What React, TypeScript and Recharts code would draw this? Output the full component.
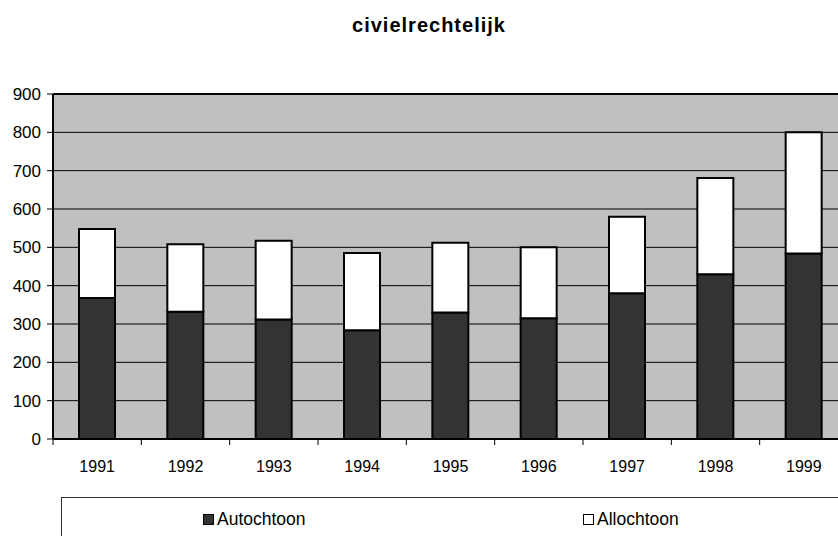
import React from "react";
import {
  BarChart,
  Bar,
  XAxis,
  YAxis,
  CartesianGrid,
  ReferenceLine,
} from "recharts";

const YEARS = ["1991", "1992", "1993", "1994", "1995", "1996", "1997", "1998", "1999"];
const AUTOCHTOON = [368, 332, 312, 284, 330, 315, 380, 430, 484];
const ALLOCHTOON = [180, 176, 205, 201, 182, 185, 200, 251, 316];
const Y_TICKS = [0, 100, 200, 300, 400, 500, 600, 700, 800, 900];

const data = YEARS.map((year, i) => ({
  year,
  autochtoon: AUTOCHTOON[i],
  allochtoon: ALLOCHTOON[i],
}));

const FONT = "'Liberation Sans', Arial, sans-serif";
const CHART_W = 900;
const CHART_H = 536;
const MARGIN = { top: 94, right: 52, left: 0, bottom: 67 };
const Y_AXIS_W = 53;
const PLOT_W = CHART_W - MARGIN.right - MARGIN.left - Y_AXIS_W;
const HALF_BAND = PLOT_W / YEARS.length / 2;

// year label in the middle, tick mark on the left boundary of each category
const YearTick = (props: any) => {
  const { x, y, payload } = props;
  return (
    <g>
      <line x1={x - HALF_BAND} y1={y} x2={x - HALF_BAND} y2={y + 6} stroke="#000" strokeWidth={1} />
      <text x={x} y={y + 33} textAnchor="middle" fill="#000" fontSize={16} fontFamily={FONT}>
        {payload.value}
      </text>
    </g>
  );
};

const LEGEND = [
  { name: "Autochtoon", fill: "#333333", left: 203 },
  { name: "Allochtoon", fill: "#ffffff", left: 583 },
];

export default function App() {
  return (
    <div
      style={{
        position: "absolute",
        left: 0,
        top: 0,
        width: 838,
        height: 536,
        overflow: "hidden",
        background: "#fff",
        fontFamily: FONT,
      }}
    >
      <div
        style={{
          position: "absolute",
          left: 0,
          top: 14,
          width: 858,
          textAlign: "center",
          fontWeight: "bold",
          fontSize: 20,
          letterSpacing: 1,
          color: "#000",
        }}
      >
        civielrechtelijk
      </div>

      <BarChart width={CHART_W} height={CHART_H} data={data} margin={MARGIN}>
        <CartesianGrid vertical={false} stroke="#000" fill="#C0C0C0" fillOpacity={1} />
        <XAxis
          dataKey="year"
          height={30}
          tickSize={0}
          tickMargin={0}
          tickLine={false}
          axisLine={{ stroke: "#000", strokeWidth: 2 }}
          tick={<YearTick />}
          interval={0}
        />
        <YAxis
          width={Y_AXIS_W}
          domain={[0, 900]}
          ticks={Y_TICKS}
          interval={0}
          tickSize={6}
          tickMargin={6}
          tickLine={{ stroke: "#000" }}
          axisLine={{ stroke: "#000", strokeWidth: 2 }}
          tick={{ fill: "#000", fontSize: 17, fontFamily: FONT }}
        />
        <ReferenceLine y={900} stroke="#000" strokeWidth={2} />
        <Bar
          dataKey="autochtoon"
          stackId="a"
          fill="#333333"
          stroke="#000"
          strokeWidth={2}
          barSize={36}
          isAnimationActive={false}
        />
        <Bar
          dataKey="allochtoon"
          stackId="a"
          fill="#ffffff"
          stroke="#000"
          strokeWidth={2}
          barSize={36}
          isAnimationActive={false}
        />
      </BarChart>

      <div
        style={{
          position: "absolute",
          left: 61,
          top: 497,
          width: 900,
          height: 80,
          borderTop: "1px solid #333",
          borderLeft: "1px solid #333",
        }}
      />
      {LEGEND.map((item) => (
        <div
          key={item.name}
          style={{
            position: "absolute",
            left: item.left,
            top: 509,
            display: "flex",
            alignItems: "center",
            fontSize: 17.5,
            color: "#000",
          }}
        >
          <span
            style={{
              display: "inline-block",
              width: 9,
              height: 9,
              border: "1.5px solid #000",
              background: item.fill,
              marginRight: 3,
            }}
          />
          {item.name}
        </div>
      ))}
    </div>
  );
}
